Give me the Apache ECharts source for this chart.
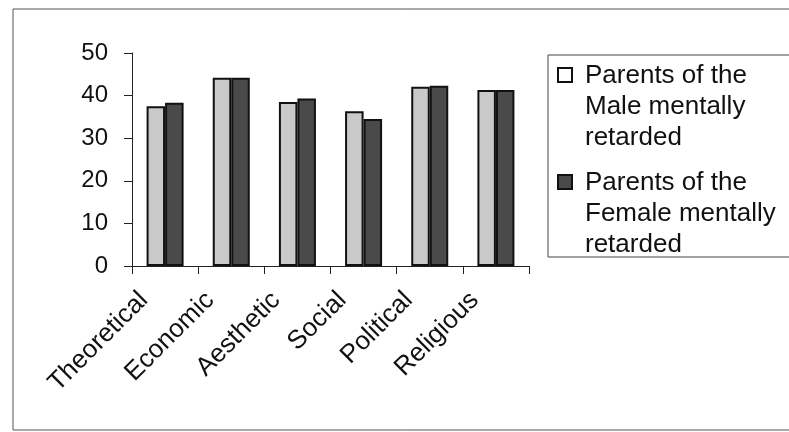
<!DOCTYPE html>
<html>
<head>
<meta charset="utf-8">
<script src="https://cdn.jsdelivr.net/npm/echarts@6/dist/echarts.min.js"></script>
<style>
  html, body { margin: 0; padding: 0; background: #fff; }
  #main { width: 789px; height: 432px; }
</style>
</head>
<body>
<div id="main"></div>
<script>
const categories = ['Theoretical', 'Economic', 'Aesthetic', 'Social', 'Political', 'Religious'];
const maleValues = [37.5, 44.2, 38.5, 36.3, 42.1, 41.3];
const femaleValues = [38.3, 44.2, 39.3, 34.5, 42.3, 41.3];
const yTicks = [0, 10, 20, 30, 40, 50];
const maleName = 'Parents of the\nMale mentally\nretarded';
const femaleName = 'Parents of the\nFemale mentally\nretarded';

const fontFamily = '"Liberation Sans", Arial, sans-serif';
// legend icon: square sitting at the first text line, box stretched to 3 lines
const legendIcon = 'path://M0,8 L14,8 L14,22 L0,22 Z M0,0 M0,93';

let chartDom = document.getElementById('main');
let chart = echarts.init(chartDom, null, { renderer: 'canvas' });

let option = {
  animation: false,
  backgroundColor: '#fff',
  textStyle: { fontFamily: fontFamily },
  grid: { left: 132, top: 53, width: 397, height: 213, containLabel: false },
  graphic: [
    {
      // outer chart frame, runs off the right edge
      type: 'rect',
      shape: { x: 13, y: 9, width: 820, height: 421 },
      style: { fill: 'none', stroke: '#555', lineWidth: 1 },
      silent: true
    },
    {
      // legend frame, also cut by the right edge
      type: 'rect',
      shape: { x: 548, y: 55, width: 300, height: 202 },
      style: { fill: 'none', stroke: '#444', lineWidth: 1 },
      silent: true
    }
  ],
  legend: {
    orient: 'vertical',
    left: 548,
    top: 55,
    padding: [4, 0, 0, 9],
    itemGap: 12,
    itemWidth: 14,
    itemHeight: 93,
    icon: legendIcon,
    textStyle: {
      fontSize: 26,
      lineHeight: 31,
      color: '#111',
      padding: [0, 0, 0, 8]
    },
    data: [
      { name: maleName, itemStyle: { color: '#fff', borderColor: '#111', borderWidth: 2 } },
      { name: femaleName, itemStyle: { color: '#4a4a4a', borderColor: '#111', borderWidth: 2 } }
    ]
  },
  xAxis: {
    type: 'category',
    data: categories,
    axisLine: { lineStyle: { color: '#222', width: 1 } },
    axisTick: { show: true, length: 8, lineStyle: { color: '#222' } },
    axisLabel: {
      rotate: 45,
      fontSize: 26,
      color: '#111',
      margin: 9,
      padding: [0, 30, 0, 0]
    }
  },
  yAxis: {
    type: 'value',
    min: yTicks[0],
    max: yTicks[yTicks.length - 1],
    interval: yTicks[1] - yTicks[0],
    splitLine: { show: false },
    axisLine: { show: true, lineStyle: { color: '#222', width: 1 } },
    axisTick: { show: true, length: 8, lineStyle: { color: '#222' } },
    axisLabel: { fontSize: 24, color: '#111', margin: 24 }
  },
  series: [
    {
      name: maleName,
      type: 'bar',
      data: maleValues,
      barWidth: 18.5,
      barGap: '0%',
      itemStyle: { color: '#c9c9c9', borderColor: '#111', borderWidth: 2 }
    },
    {
      name: femaleName,
      type: 'bar',
      data: femaleValues,
      barWidth: 18.5,
      itemStyle: { color: '#4a4a4a', borderColor: '#111', borderWidth: 2 }
    }
  ]
};

chart.setOption(option);
</script>
</body>
</html>
